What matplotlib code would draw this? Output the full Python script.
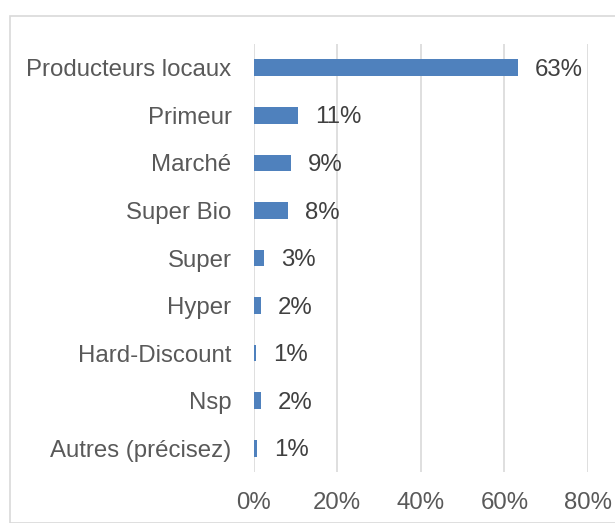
import matplotlib
matplotlib.use("Agg")
import matplotlib.pyplot as plt
from matplotlib.patches import Rectangle
from matplotlib.ticker import FuncFormatter

categories = ["Producteurs locaux", "Primeur", "Marché", "Super Bio", "Super",
              "Hyper", "Hard-Discount", "Nsp", "Autres (précisez)"]
shares = [63.3, 10.7, 9.0, 8.3, 2.6, 1.7, 0.6, 1.7, 0.9]
x_ticks = [0, 20, 40, 60, 80]

plt.rcParams["font.family"] = ["Liberation Sans", "DejaVu Sans"]

W, H = 615, 523
FS = 17.3
fig = plt.figure(figsize=(W / 100, H / 100), dpi=100)

# chart frame
fig.patches.append(Rectangle((10 / W, 0), 1.2, 1 - 16 / H, transform=fig.transFigure,
                             fill=False, edgecolor="#D9D9D9", linewidth=1.2))

left, right = 253.5 / W, 588 / W
top, bottom = 1 - 44 / H, 1 - 472 / H
ax = fig.add_axes([left, bottom, right - left, top - bottom])

y = list(range(len(categories)))
ax.barh(y, shares, height=0.35, color="#4F81BD", zorder=3)
for yi, v in zip(y, shares):
    ax.annotate(f"{v:.0f}%", xy=(v, yi), xytext=(12, -1.5), textcoords="offset points",
                va="center", ha="left", fontsize=FS, color="#404040")

ax.set_xlim(0, 80)
ax.set_ylim(len(categories) - 0.5, -0.5)
ax.set_yticks(y)
ax.set_yticklabels(categories, fontsize=FS, color="#595959")
ax.set_xticks(x_ticks)
ax.xaxis.set_major_formatter(FuncFormatter(lambda v, p: f"{v:.0f}%"))
ax.tick_params(axis="x", labelsize=FS, labelcolor="#595959", length=0, pad=14.5)
ax.tick_params(axis="y", length=0, pad=15.8)
ax.grid(axis="x", color="#D9D9D9", linewidth=1.2, zorder=0)
for s in ax.spines.values():
    s.set_visible(False)

fig.savefig("out.png", dpi=100)
